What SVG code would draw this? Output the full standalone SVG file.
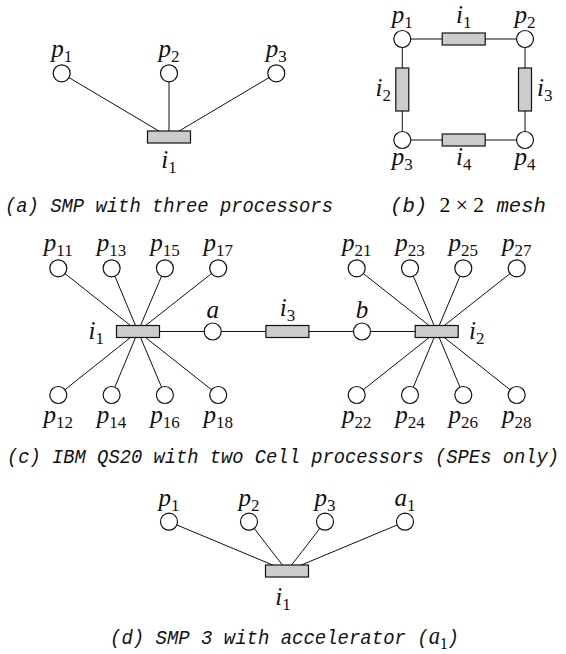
<svg xmlns="http://www.w3.org/2000/svg" width="566" height="654" viewBox="0 0 566 654">
  <style>
    .ln { stroke: #111111; stroke-width: 1; fill: none; }
    .nd { fill: #ffffff; stroke: #111111; stroke-width: 1.2; }
    .sw { fill: #cccccc; stroke: #111111; stroke-width: 1.2; }
    .m  { font-family: 'Liberation Serif', 'Times New Roman', serif; font-style: italic; font-size: 25px; fill: #111111; }
    .s  { font-family: 'Liberation Serif', 'Times New Roman', serif; font-style: normal; font-size: 17px; }
    .cap { font-family: 'Liberation Mono', 'Courier New', monospace; font-style: italic; font-size: 21px; fill: #111111; }
    .up { font-family: 'Liberation Serif', 'Times New Roman', serif; font-style: normal; font-size: 22px; }
  </style>
  <rect width="566" height="654" fill="#ffffff"/>

  <!-- connectors -->
  <g id="connectors">
    <!-- (a) SMP -->
    <line class="ln" x1="61.7" y1="73.3" x2="169" y2="137"/>
    <line class="ln" x1="169" y1="73.3" x2="169" y2="137"/>
    <line class="ln" x1="276.3" y1="73.3" x2="169" y2="137"/>
    <!-- (b) mesh -->
    <line class="ln" x1="402.3" y1="39" x2="525" y2="39"/>
    <line class="ln" x1="402.3" y1="140" x2="525" y2="140"/>
    <line class="ln" x1="402.3" y1="39" x2="402.3" y2="140"/>
    <line class="ln" x1="525" y1="39" x2="525" y2="140"/>
    <!-- (c) QS20, left cell -->
    <line class="ln" x1="58.3" y1="268.3" x2="138" y2="331.5"/>
    <line class="ln" x1="111.6" y1="268.3" x2="138" y2="331.5"/>
    <line class="ln" x1="164.9" y1="268.3" x2="138" y2="331.5"/>
    <line class="ln" x1="218.2" y1="268.3" x2="138" y2="331.5"/>
    <line class="ln" x1="58.3" y1="395" x2="138" y2="331.5"/>
    <line class="ln" x1="111.6" y1="395" x2="138" y2="331.5"/>
    <line class="ln" x1="164.9" y1="395" x2="138" y2="331.5"/>
    <line class="ln" x1="218.2" y1="395" x2="138" y2="331.5"/>
    <!-- (c) chain i1 - a - i3 - b - i2 -->
    <line class="ln" x1="138" y1="331.5" x2="436.7" y2="331.5"/>
    <!-- (c) right cell -->
    <line class="ln" x1="356.7" y1="268.3" x2="436.7" y2="331.5"/>
    <line class="ln" x1="410" y1="268.3" x2="436.7" y2="331.5"/>
    <line class="ln" x1="463.3" y1="268.3" x2="436.7" y2="331.5"/>
    <line class="ln" x1="516.7" y1="268.3" x2="436.7" y2="331.5"/>
    <line class="ln" x1="356.7" y1="395" x2="436.7" y2="331.5"/>
    <line class="ln" x1="410" y1="395" x2="436.7" y2="331.5"/>
    <line class="ln" x1="463.3" y1="395" x2="436.7" y2="331.5"/>
    <line class="ln" x1="516.7" y1="395" x2="436.7" y2="331.5"/>
    <!-- (d) SMP with accelerator -->
    <line class="ln" x1="169" y1="521.7" x2="287" y2="571"/>
    <line class="ln" x1="249" y1="521.7" x2="287" y2="571"/>
    <line class="ln" x1="325" y1="521.7" x2="287" y2="571"/>
    <line class="ln" x1="405" y1="521.7" x2="287" y2="571"/>
  </g>

  <!-- (a) SMP with three processors -->
  <g id="a-p1"><circle class="nd" cx="61.7" cy="73.3" r="8.5"/><text class="m" x="61.7" y="57" text-anchor="middle">p<tspan class="s" dy="5">1</tspan></text></g>
  <g id="a-p2"><circle class="nd" cx="169" cy="73.3" r="8.5"/><text class="m" x="169" y="57" text-anchor="middle">p<tspan class="s" dy="5">2</tspan></text></g>
  <g id="a-p3"><circle class="nd" cx="276.3" cy="73.3" r="8.5"/><text class="m" x="276.3" y="57" text-anchor="middle">p<tspan class="s" dy="5">3</tspan></text></g>
  <g id="a-i1"><rect class="sw" x="147.5" y="131" width="43" height="12"/><text class="m" x="169" y="168" text-anchor="middle">i<tspan class="s" dy="5">1</tspan></text></g>
  <text class="cap" x="5" y="212" textLength="328" lengthAdjust="spacingAndGlyphs">(a) SMP with three processors</text>

  <!-- (b) 2x2 mesh -->
  <g id="b-p1"><circle class="nd" cx="402.3" cy="39" r="8.5"/><text class="m" x="402.3" y="23" text-anchor="middle">p<tspan class="s" dy="5">1</tspan></text></g>
  <g id="b-p2"><circle class="nd" cx="525" cy="39" r="8.5"/><text class="m" x="525" y="23" text-anchor="middle">p<tspan class="s" dy="5">2</tspan></text></g>
  <g id="b-p3"><circle class="nd" cx="402.3" cy="140" r="8.5"/><text class="m" x="402.3" y="165" text-anchor="middle">p<tspan class="s" dy="5">3</tspan></text></g>
  <g id="b-p4"><circle class="nd" cx="525" cy="140" r="8.5"/><text class="m" x="525" y="165" text-anchor="middle">p<tspan class="s" dy="5">4</tspan></text></g>
  <g id="b-i1"><rect class="sw" x="442.2" y="33" width="43" height="12"/><text class="m" x="463.7" y="23" text-anchor="middle">i<tspan class="s" dy="5">1</tspan></text></g>
  <g id="b-i2"><rect class="sw" x="395.8" y="68" width="13" height="43"/><text class="m" x="391" y="96" text-anchor="end">i<tspan class="s" dy="5">2</tspan></text></g>
  <g id="b-i3"><rect class="sw" x="518.5" y="68" width="13" height="43"/><text class="m" x="537" y="96">i<tspan class="s" dy="5">3</tspan></text></g>
  <g id="b-i4"><rect class="sw" x="442.2" y="134" width="43" height="12"/><text class="m" x="463.7" y="165" text-anchor="middle">i<tspan class="s" dy="5">4</tspan></text></g>
  <text x="390" y="212" textLength="156" lengthAdjust="spacingAndGlyphs"><tspan class="cap">(b) </tspan><tspan class="up">2 × 2</tspan><tspan class="cap"> mesh</tspan></text>

  <!-- (c) IBM QS20, left Cell -->
  <g id="c-p11"><circle class="nd" cx="58.3" cy="268.3" r="8.5"/><text class="m" x="58.3" y="251.3" text-anchor="middle">p<tspan class="s" dy="5">11</tspan></text></g>
  <g id="c-p13"><circle class="nd" cx="111.6" cy="268.3" r="8.5"/><text class="m" x="111.6" y="251.3" text-anchor="middle">p<tspan class="s" dy="5">13</tspan></text></g>
  <g id="c-p15"><circle class="nd" cx="164.9" cy="268.3" r="8.5"/><text class="m" x="164.9" y="251.3" text-anchor="middle">p<tspan class="s" dy="5">15</tspan></text></g>
  <g id="c-p17"><circle class="nd" cx="218.2" cy="268.3" r="8.5"/><text class="m" x="218.2" y="251.3" text-anchor="middle">p<tspan class="s" dy="5">17</tspan></text></g>
  <g id="c-p12"><circle class="nd" cx="58.3" cy="395" r="8.5"/><text class="m" x="58.3" y="423" text-anchor="middle">p<tspan class="s" dy="5">12</tspan></text></g>
  <g id="c-p14"><circle class="nd" cx="111.6" cy="395" r="8.5"/><text class="m" x="111.6" y="423" text-anchor="middle">p<tspan class="s" dy="5">14</tspan></text></g>
  <g id="c-p16"><circle class="nd" cx="164.9" cy="395" r="8.5"/><text class="m" x="164.9" y="423" text-anchor="middle">p<tspan class="s" dy="5">16</tspan></text></g>
  <g id="c-p18"><circle class="nd" cx="218.2" cy="395" r="8.5"/><text class="m" x="218.2" y="423" text-anchor="middle">p<tspan class="s" dy="5">18</tspan></text></g>
  <g id="c-i1"><rect class="sw" x="116.5" y="325.5" width="43" height="12"/><text class="m" x="104" y="339" text-anchor="end">i<tspan class="s" dy="5">1</tspan></text></g>
  <g id="c-a"><circle class="nd" cx="212.7" cy="331.5" r="8.5"/><text class="m" x="212.7" y="318" text-anchor="middle">a</text></g>
  <g id="c-i3"><rect class="sw" x="265.9" y="325.5" width="43" height="12"/><text class="m" x="287.4" y="316" text-anchor="middle">i<tspan class="s" dy="5">3</tspan></text></g>
  <g id="c-b"><circle class="nd" cx="362" cy="331.5" r="8.5"/><text class="m" x="362" y="318" text-anchor="middle">b</text></g>
  <g id="c-i2"><rect class="sw" x="415.2" y="325.5" width="43" height="12"/><text class="m" x="469" y="339">i<tspan class="s" dy="5">2</tspan></text></g>
  <!-- (c) right Cell -->
  <g id="c-p21"><circle class="nd" cx="356.7" cy="268.3" r="8.5"/><text class="m" x="356.7" y="251.3" text-anchor="middle">p<tspan class="s" dy="5">21</tspan></text></g>
  <g id="c-p23"><circle class="nd" cx="410" cy="268.3" r="8.5"/><text class="m" x="410" y="251.3" text-anchor="middle">p<tspan class="s" dy="5">23</tspan></text></g>
  <g id="c-p25"><circle class="nd" cx="463.3" cy="268.3" r="8.5"/><text class="m" x="463.3" y="251.3" text-anchor="middle">p<tspan class="s" dy="5">25</tspan></text></g>
  <g id="c-p27"><circle class="nd" cx="516.7" cy="268.3" r="8.5"/><text class="m" x="516.7" y="251.3" text-anchor="middle">p<tspan class="s" dy="5">27</tspan></text></g>
  <g id="c-p22"><circle class="nd" cx="356.7" cy="395" r="8.5"/><text class="m" x="356.7" y="423" text-anchor="middle">p<tspan class="s" dy="5">22</tspan></text></g>
  <g id="c-p24"><circle class="nd" cx="410" cy="395" r="8.5"/><text class="m" x="410" y="423" text-anchor="middle">p<tspan class="s" dy="5">24</tspan></text></g>
  <g id="c-p26"><circle class="nd" cx="463.3" cy="395" r="8.5"/><text class="m" x="463.3" y="423" text-anchor="middle">p<tspan class="s" dy="5">26</tspan></text></g>
  <g id="c-p28"><circle class="nd" cx="516.7" cy="395" r="8.5"/><text class="m" x="516.7" y="423" text-anchor="middle">p<tspan class="s" dy="5">28</tspan></text></g>
  <text class="cap" x="7" y="463" textLength="552" lengthAdjust="spacingAndGlyphs">(c) IBM QS20 with two Cell processors (SPEs only)</text>

  <!-- (d) SMP with accelerator -->
  <g id="d-p1"><circle class="nd" cx="169" cy="521.7" r="8.5"/><text class="m" x="169" y="505.7" text-anchor="middle">p<tspan class="s" dy="5">1</tspan></text></g>
  <g id="d-p2"><circle class="nd" cx="249" cy="521.7" r="8.5"/><text class="m" x="249" y="505.7" text-anchor="middle">p<tspan class="s" dy="5">2</tspan></text></g>
  <g id="d-p3"><circle class="nd" cx="325" cy="521.7" r="8.5"/><text class="m" x="325" y="505.7" text-anchor="middle">p<tspan class="s" dy="5">3</tspan></text></g>
  <g id="d-a1"><circle class="nd" cx="405" cy="521.7" r="8.5"/><text class="m" x="405" y="505.7" text-anchor="middle">a<tspan class="s" dy="5">1</tspan></text></g>
  <g id="d-i1"><rect class="sw" x="265.5" y="565" width="43" height="12"/><text class="m" x="283" y="605" text-anchor="middle">i<tspan class="s" dy="5">1</tspan></text></g>
  <text x="110" y="644" textLength="349" lengthAdjust="spacingAndGlyphs"><tspan class="cap">(d) SMP 3 with accelerator (</tspan><tspan class="m">a</tspan><tspan class="s" dy="5">1</tspan><tspan class="cap" dy="-5">)</tspan></text>
</svg>
